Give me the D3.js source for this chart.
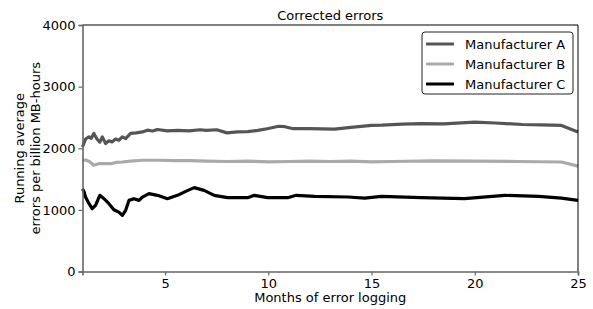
<!DOCTYPE html>
<html>
<head>
<meta charset="utf-8">
<script src="https://cdn.jsdelivr.net/npm/d3@7"></script>
<style>
body { margin: 0; background: #fff; }
text { font-family: "DejaVu Sans", sans-serif; fill: #000; }
</style>
</head>
<body>
<div id="viz"></div>
<script>
var width = 593, height = 309;
var margin = {top: 25, right: 15, bottom: 37.5, left: 82.5};

var seriesNames = ["Manufacturer A", "Manufacturer B", "Manufacturer C"];
var seriesColors = ["#555555", "#aaaaaa", "#000000"];

var monthsA = [1.0, 1.15, 1.31, 1.42, 1.55, 1.7, 1.84, 1.96, 2.12, 2.28, 2.44, 2.6, 2.76, 2.93, 3.09, 3.33, 3.6, 3.9, 4.14, 4.4, 4.63, 5.11, 5.6, 6.16, 6.7, 7.0, 7.5, 8.0, 8.5, 9.0, 9.5, 10.0, 10.5, 10.8, 11.2, 12, 13.2, 14, 15, 15.5, 16.5, 17.4, 18.5, 20, 21, 22.3, 23.2, 24.2, 25];
var valuesA = [2020, 2150, 2184, 2160, 2240, 2150, 2100, 2184, 2076, 2120, 2103, 2150, 2130, 2184, 2157, 2240, 2250, 2265, 2293, 2280, 2304, 2282, 2290, 2282, 2300, 2290, 2300, 2250, 2265, 2270, 2290, 2320, 2357, 2350, 2317, 2320, 2310, 2340, 2370, 2374, 2390, 2400, 2395, 2423, 2410, 2385, 2380, 2370, 2265];

var monthsB = [1.0, 1.15, 1.31, 1.42, 1.55, 1.7, 1.84, 2.12, 2.44, 2.6, 2.93, 3.33, 3.9, 4.63, 5.5, 6.16, 7, 8, 9, 10, 11, 12, 13, 14, 15, 16, 18, 20, 22, 24.2, 25];
var valuesB = [1800, 1810, 1790, 1760, 1724, 1740, 1751, 1751, 1751, 1770, 1777, 1790, 1805, 1805, 1800, 1800, 1790, 1785, 1790, 1780, 1785, 1790, 1785, 1790, 1780, 1785, 1795, 1790, 1785, 1777, 1710];

var monthsC = [1.0, 1.08, 1.146, 1.31, 1.47, 1.63, 1.84, 2.04, 2.28, 2.52, 2.76, 2.93, 3.09, 3.25, 3.49, 3.74, 3.9, 4.22, 4.63, 5.11, 5.6, 6.0, 6.41, 6.89, 7.38, 8.03, 9.0, 9.32, 9.97, 10.94, 11.35, 12.24, 13.86, 14.67, 15.48, 17.4, 19.5, 21.45, 23.1, 24.2, 25];
var valuesC = [1344, 1290, 1208, 1105, 1019, 1073, 1236, 1182, 1100, 1003, 964, 911, 992, 1154, 1182, 1154, 1208, 1263, 1236, 1182, 1236, 1300, 1361, 1317, 1236, 1198, 1198, 1236, 1198, 1198, 1236, 1220, 1209, 1192, 1220, 1198, 1182, 1236, 1220, 1192, 1154];

var xTicks = [5, 10, 15, 20, 25];
var yTicks = [0, 1000, 2000, 3000, 4000];

var series = [
	{name: seriesNames[0], color: seriesColors[0], months: monthsA, values: valuesA},
	{name: seriesNames[1], color: seriesColors[1], months: monthsB, values: valuesB},
	{name: seriesNames[2], color: seriesColors[2], months: monthsC, values: valuesC}
];

var x = d3.scaleLinear()
	.domain([1, 25])
	.range([margin.left, width - margin.right]);

var y = d3.scaleLinear()
	.domain([0, 4000])
	.range([height - margin.bottom, margin.top]);

var svg = d3.select("#viz").append("svg")
	.attr("width", width)
	.attr("height", height);

var line = d3.line()
	.x(function(d) { return x(d[0]); })
	.y(function(d) { return y(d[1]); });

svg.selectAll(".series")
		.data(series)
	.enter().append("path")
		.attr("class", "series")
		.attr("fill", "none")
		.attr("stroke", function(d) { return d.color; })
		.attr("stroke-width", 3.2)
		.attr("stroke-linejoin", "round")
		.attr("d", function(d) { return line(d3.zip(d.months, d.values)); });

// spines: top and right black, left and bottom grey
svg.append("line")
	.attr("x1", x(1)).attr("x2", x(25))
	.attr("y1", y(4000)).attr("y2", y(4000))
	.attr("stroke", "#000").attr("stroke-width", 1);
svg.append("line")
	.attr("x1", x(25)).attr("x2", x(25))
	.attr("y1", y(4000)).attr("y2", y(0))
	.attr("stroke", "#000").attr("stroke-width", 1);

var xAxis = svg.append("g")
	.attr("transform", "translate(0," + y(0) + ")")
	.call(d3.axisBottom(x).tickValues(xTicks).tickSize(4).tickPadding(3));

var yAxis = svg.append("g")
	.attr("transform", "translate(" + x(1) + ",0)")
	.call(d3.axisLeft(y).tickValues(yTicks).tickFormat(d3.format("d")).tickSize(4).tickPadding(3));

[xAxis, yAxis].forEach(function(a) {
	a.select(".domain").attr("stroke", "#666").attr("stroke-width", 1.6);
	a.selectAll(".tick line").attr("stroke", "#666").attr("stroke-width", 1.2);
	a.selectAll(".tick text").attr("font-size", 13).attr("fill", "#000")
		.style("font-family", "DejaVu Sans, sans-serif");
});

svg.append("text")
	.attr("x", (x(1) + x(25)) / 2)
	.attr("y", 20)
	.attr("text-anchor", "middle")
	.attr("font-size", 13)
	.text("Corrected errors");

svg.append("text")
	.attr("x", (x(1) + x(25)) / 2)
	.attr("y", 302)
	.attr("text-anchor", "middle")
	.attr("font-size", 13)
	.text("Months of error logging");

var yl = svg.append("text")
	.attr("transform", "translate(24," + ((y(0) + y(4000)) / 2) + ") rotate(-90)")
	.attr("text-anchor", "middle")
	.attr("font-size", 13);
yl.append("tspan").attr("x", 0).attr("dy", 0).text("Running average");
yl.append("tspan").attr("x", 0).attr("dy", 16).text("errors per billion MB-hours");

// legend
var legend = svg.append("g").attr("transform", "translate(422,32)");
legend.append("rect")
	.attr("width", 151).attr("height", 62)
	.attr("rx", 3)
	.attr("fill", "#fff")
	.attr("stroke", "#222")
	.attr("stroke-width", 1);

var li = legend.selectAll(".li")
		.data(series)
	.enter().append("g")
		.attr("class", "li")
		.attr("transform", function(d, i) { return "translate(0," + (12 + i * 20) + ")"; });

li.append("line")
	.attr("x1", 4).attr("x2", 32)
	.attr("stroke", function(d) { return d.color; })
	.attr("stroke-width", 3);

li.append("text")
	.attr("x", 43)
	.attr("dy", "0.35em")
	.attr("font-size", 13)
	.text(function(d) { return d.name; });
</script>
</body>
</html>
